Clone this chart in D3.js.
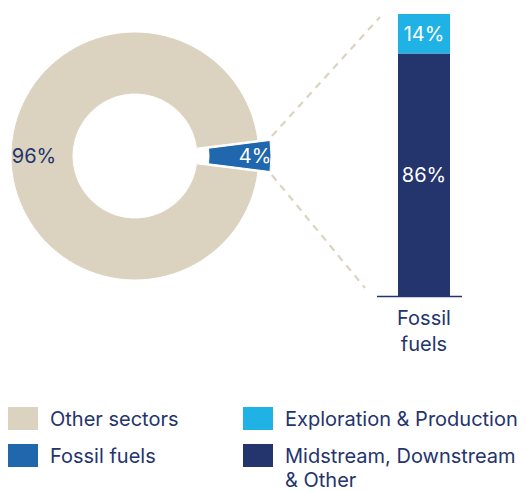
<!DOCTYPE html>
<html>
<head>
<meta charset="utf-8">
<script src="https://cdn.jsdelivr.net/npm/d3@7"></script>
<style>
  html, body { margin: 0; padding: 0; background: #fff; }
  svg { display: block; font-family: Inter, "Open Sans", sans-serif; }
</style>
</head>
<body>
<svg id="chart" width="527" height="492"></svg>
<script>
// Sector shares (donut)
const sectors = ["Fossil fuels", "Other sectors"];
const sectorShares = [4, 96];

// Breakdown of fossil fuels (stacked bar, bottom to top)
const segments = ["Midstream, Downstream & Other", "Exploration & Production"];
const segmentShares = [86, 14];
const barCategory = ["Fossil fuels"];

const colors = {
  "Other sectors": "#dbd3bf",
  "Fossil fuels": "#2167ae",
  "Exploration & Production": "#20b1e5",
  "Midstream, Downstream & Other": "#24346d"
};
const navy = "#24346d";

const legendLeft = ["Other sectors", "Fossil fuels"];
const legendRight = ["Exploration & Production", "Midstream, Downstream & Other"];

const svg = d3.select("#chart");
const FS = 20;

// ---- Donut ----
const cx = 135, cy = 156, outerR = 124, innerR = 62, explode = 12;
const fossilFrac = sectorShares[0] / d3.sum(sectorShares);
const start = Math.PI / 2 - Math.PI * fossilFrac;

const pie = d3.pie().sort(null).startAngle(start).endAngle(start + 2 * Math.PI);
const arcs = pie(sectorShares);
const arc = d3.arc().innerRadius(innerR).outerRadius(outerR);

const donut = svg.append("g").attr("transform", `translate(${cx},${cy})`);

donut.selectAll("path")
  .data(arcs)
  .join("path")
  .attr("d", arc)
  .attr("fill", (d, i) => colors[sectors[i]])
  .attr("stroke", "#fff")
  .attr("stroke-width", 1)
  .attr("transform", (d, i) => {
    if (i !== 0) return null;
    const a = (d.startAngle + d.endAngle) / 2;
    return `translate(${explode * Math.sin(a)},${-explode * Math.cos(a)})`;
  });

// Slice labels
const labelR = [108, 101];
donut.selectAll("text.slice")
  .data(arcs)
  .join("text")
  .attr("class", "slice")
  .attr("x", (d, i) => {
    const a = (d.startAngle + d.endAngle) / 2;
    return (labelR[i] + (i === 0 ? explode : 0)) * Math.sin(a);
  })
  .attr("y", (d, i) => {
    const a = (d.startAngle + d.endAngle) / 2;
    return -(labelR[i] + (i === 0 ? explode : 0)) * Math.cos(a);
  })
  .attr("text-anchor", "middle")
  .attr("dominant-baseline", "central")
  .attr("font-size", FS)
  .attr("fill", (d, i) => i === 0 ? "#fff" : navy)
  .text(d => d.data + "%");

// ---- Stacked bar ----
const x = d3.scaleBand().domain(barCategory).range([398, 450]).padding(0);
const y = d3.scaleLinear().domain([0, 100]).range([296, 14]);
const axisLeft = 377, axisRight = 462;

const stackRow = {};
segments.forEach((s, i) => stackRow[s] = segmentShares[i]);
const stacked = d3.stack().keys(segments)([stackRow]);

const bar = svg.append("g");
bar.selectAll("rect")
  .data(stacked)
  .join("rect")
  .attr("x", x(barCategory[0]))
  .attr("width", x.bandwidth())
  .attr("y", d => y(d[0][1]))
  .attr("height", d => y(d[0][0]) - y(d[0][1]))
  .attr("fill", d => colors[d.key]);

bar.selectAll("text.seg")
  .data(stacked)
  .join("text")
  .attr("class", "seg")
  .attr("x", x(barCategory[0]) + x.bandwidth() / 2)
  .attr("y", d => (y(d[0][0]) + y(d[0][1])) / 2)
  .attr("text-anchor", "middle")
  .attr("dominant-baseline", "central")
  .attr("font-size", FS)
  .attr("fill", "#fff")
  .text(d => (d[0][1] - d[0][0]) + "%");

// Baseline axis
bar.append("line")
  .attr("x1", axisLeft).attr("x2", axisRight)
  .attr("y1", y(0) + 0.5).attr("y2", y(0) + 0.5)
  .attr("stroke", navy).attr("stroke-width", 1.5);

// Category label
const cxBar = x(barCategory[0]) + x.bandwidth() / 2;
const catLabel = bar.append("text")
  .attr("text-anchor", "middle")
  .attr("font-size", FS)
  .attr("fill", navy);
catLabel.append("tspan").attr("x", cxBar).attr("y", 325).text("Fossil");
catLabel.append("tspan").attr("x", cxBar).attr("y", 351).text("fuels");

// ---- Connector lines from exploded slice to bar ----
const sliceOuter = outerR + explode;
const half = Math.PI * fossilFrac;
const topCorner = [cx + sliceOuter * Math.cos(half) + 2, cy - sliceOuter * Math.sin(half) - 3];
const botCorner = [cx + sliceOuter * Math.cos(half) + 2, cy + sliceOuter * Math.sin(half) + 2];
const connectors = [
  [topCorner, [x(barCategory[0]) - 18, y(100) + 3]],
  [botCorner, [x(barCategory[0]) - 33, y(0) - 8]]
];
svg.append("g").selectAll("line")
  .data(connectors)
  .join("line")
  .attr("x1", d => d[0][0]).attr("y1", d => d[0][1])
  .attr("x2", d => d[1][0]).attr("y2", d => d[1][1])
  .attr("stroke", "#dcd4c2")
  .attr("stroke-width", 2.2)
  .attr("stroke-dasharray", "7,6");

// ---- Legend ----
const legend = svg.append("g");
function legendColumn(items, x0) {
  items.forEach((name, i) => {
    const yy = 407 + i * 37;
    legend.append("rect")
      .attr("x", x0).attr("y", yy)
      .attr("width", 30).attr("height", 23)
      .attr("fill", colors[name]);
    const t = legend.append("text")
      .attr("x", x0 + 42)
      .attr("y", yy + 19)
      .attr("font-size", FS)
      .attr("fill", navy);
    if (name === "Midstream, Downstream & Other") {
      t.append("tspan").attr("x", x0 + 42).text("Midstream, Downstream");
      t.append("tspan").attr("x", x0 + 42).attr("dy", 24).text("& Other");
    } else {
      t.text(name);
    }
  });
}
legendColumn(legendLeft, 8);
legendColumn(legendRight, 243);
</script>
</body>
</html>
